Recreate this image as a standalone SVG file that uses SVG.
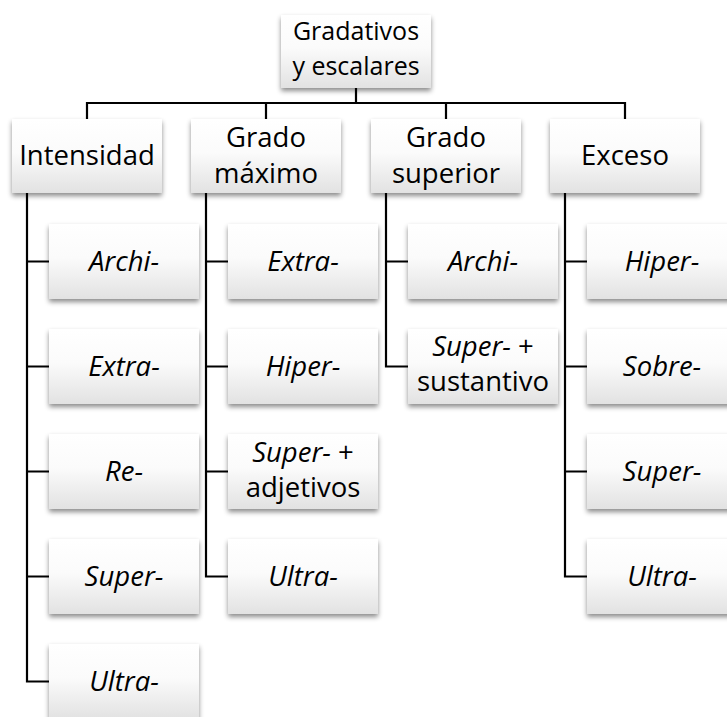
<svg xmlns="http://www.w3.org/2000/svg" width="727" height="717" viewBox="0 0 727 717">
<defs>
<linearGradient id="g" x1="0" y1="0" x2="0" y2="1">
<stop offset="0" stop-color="#ffffff"/>
<stop offset="0.45" stop-color="#fbfbfb"/>
<stop offset="1" stop-color="#e2e2e2"/>
</linearGradient>
<filter id="sh" x="-10%" y="-10%" width="120%" height="130%">
<feDropShadow dx="0" dy="3" stdDeviation="2.5" flood-color="#000" flood-opacity="0.45"/>
</filter>
</defs>
<style>
.box{fill:url(#g);filter:url(#sh)}
text{font-family:"Open Sans","Noto Sans","DejaVu Sans",sans-serif;font-size:27.5px;fill:#000;text-anchor:middle}
.it{font-style:italic}
.rt{font-size:25px}
.con{fill:none;stroke:#000;stroke-width:2.2}
</style>
<g id="connectors" class="con">
<path d="M356 88V103M87 119V103H625V119M266 103V119M446 103V119"/>
<path d="M27 193V681.5H49M27 261.5H49M27 366.5H49M27 471.5H49M27 576.5H49"/>
<path d="M206 193V576.5H228M206 261.5H228M206 366.5H228M206 471.5H228"/>
<path d="M386 193V366.5H408M386 261.5H408"/>
<path d="M565 193V576.5H587M565 261.5H587M565 366.5H587M565 471.5H587"/>
</g>
<g id="root"><rect class="box" x="281" y="15" width="150" height="73"/><text class="rt" x="356" y="40">Gradativos</text><text class="rt" x="356" y="75">y escalares</text></g>
<g id="intensidad"><rect class="box" x="12" y="119" width="150" height="74"/><text x="87" y="165">Intensidad</text></g>
<g id="grado-maximo"><rect class="box" x="191" y="119" width="150" height="74"/><text x="266" y="147">Grado</text><text x="266" y="183">máximo</text></g>
<g id="grado-superior"><rect class="box" x="371" y="119" width="150" height="74"/><text x="446" y="147">Grado</text><text x="446" y="183">superior</text></g>
<g id="exceso"><rect class="box" x="550" y="119" width="150" height="74"/><text x="625" y="165">Exceso</text></g>

<g id="int-archi"><rect class="box" x="49" y="224" width="150" height="75"/><text class="it" x="124" y="271">Archi-</text></g>
<g id="int-extra"><rect class="box" x="49" y="329" width="150" height="75"/><text class="it" x="124" y="376">Extra-</text></g>
<g id="int-re"><rect class="box" x="49" y="434" width="150" height="75"/><text class="it" x="124" y="481">Re-</text></g>
<g id="int-super"><rect class="box" x="49" y="539" width="150" height="75"/><text class="it" x="124" y="586">Super-</text></g>
<g id="int-ultra"><rect class="box" x="49" y="644" width="150" height="75"/><text class="it" x="124" y="691">Ultra-</text></g>

<g id="max-extra"><rect class="box" x="228" y="224" width="150" height="75"/><text class="it" x="303" y="271">Extra-</text></g>
<g id="max-hiper"><rect class="box" x="228" y="329" width="150" height="75"/><text class="it" x="303" y="376">Hiper-</text></g>
<g id="max-super"><rect class="box" x="228" y="434" width="150" height="75"/><text x="303" y="462"><tspan class="it">Super-</tspan> +</text><text x="303" y="497">adjetivos</text></g>
<g id="max-ultra"><rect class="box" x="228" y="539" width="150" height="75"/><text class="it" x="303" y="586">Ultra-</text></g>

<g id="sup-archi"><rect class="box" x="408" y="224" width="150" height="75"/><text class="it" x="483" y="271">Archi-</text></g>
<g id="sup-super"><rect class="box" x="408" y="329" width="150" height="75"/><text x="483" y="356"><tspan class="it">Super-</tspan> +</text><text x="483" y="391">sustantivo</text></g>

<g id="exc-hiper"><rect class="box" x="587" y="224" width="150" height="75"/><text class="it" x="662" y="271">Hiper-</text></g>
<g id="exc-sobre"><rect class="box" x="587" y="329" width="150" height="75"/><text class="it" x="662" y="376">Sobre-</text></g>
<g id="exc-super"><rect class="box" x="587" y="434" width="150" height="75"/><text class="it" x="662" y="481">Super-</text></g>
<g id="exc-ultra"><rect class="box" x="587" y="539" width="150" height="75"/><text class="it" x="662" y="586">Ultra-</text></g>
</svg>
